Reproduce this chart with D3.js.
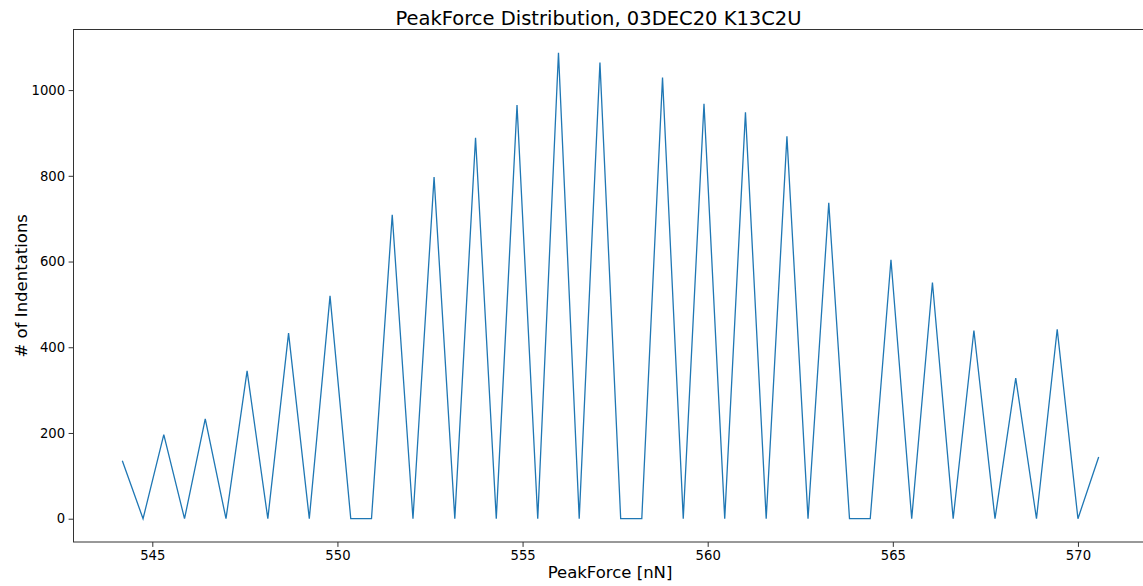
<!DOCTYPE html>
<html>
<head>
<meta charset="utf-8">
<script src="https://cdn.jsdelivr.net/npm/d3@7"></script>
<style>
  html, body { margin: 0; padding: 0; background: #fff; }
  svg { display: block; font-family: "DejaVu Sans", sans-serif; }
</style>
</head>
<body>
<svg id="chart" width="1143" height="586"></svg>
<script>
// Bin centres (PeakForce, nN)
const peakForce = [
  544.19, 544.75, 545.31, 545.87, 546.43, 546.99, 547.56, 548.12, 548.68, 549.24,
  549.80, 550.36, 550.92, 551.48, 552.04, 552.61, 553.17, 553.73, 554.29, 554.85,
  555.41, 555.97, 556.53, 557.09, 557.65, 558.22, 558.78, 559.34, 559.90, 560.46,
  561.02, 561.58, 562.14, 562.71, 563.27, 563.83, 564.39, 564.95, 565.51, 566.07,
  566.63, 567.19, 567.76, 568.32, 568.88, 569.44, 570.00, 570.56
];
// Number of indentations per bin
const counts = [
  135, 0, 196, 0, 233, 0, 345, 0, 433, 0,
  520, 0, 0, 709, 0, 797, 0, 889, 0, 965,
  0, 1087, 0, 1064, 0, 0, 1029, 0, 968, 0,
  948, 0, 892, 0, 737, 0, 0, 604, 0, 551,
  0, 439, 0, 328, 0, 442, 0, 144
];
const xTicks = [545, 550, 555, 560, 565, 570];
const yTicks = [0, 200, 400, 600, 800, 1000];
const titleText = "PeakForce Distribution, 03DEC20 K13C2U";
const xLabelText = "PeakForce [nN]";
const yLabelText = "# of Indentations";

const svg = d3.select("#chart");
const L = 73.5, R = 1147.5, T = 29.5, B = 542;

const xMin = d3.min(peakForce), xMax = d3.max(peakForce);
const xPad = (xMax - xMin) * 0.05;
const yMin = d3.min(counts), yMax = d3.max(counts);
const yPad = (yMax - yMin) * 0.05;

const x = d3.scaleLinear().domain([xMin - xPad, xMax + xPad]).range([L, R]);
const y = d3.scaleLinear().domain([yMin - yPad, yMax + yPad]).range([B, T]);

const data = peakForce.map((v, i) => ({ x: v, y: counts[i] }));

// line
svg.append("path")
  .datum(data)
  .attr("fill", "none")
  .attr("stroke", "#1f77b4")
  .attr("stroke-width", 1.3)
  .attr("stroke-linejoin", "miter")
  .attr("d", d3.line().x(d => x(d.x)).y(d => y(d.y)));

// axes
const xAxis = svg.append("g")
  .attr("transform", `translate(0,${B})`)
  .call(d3.axisBottom(x).tickValues(xTicks).tickSize(4.9).tickPadding(3.5).tickFormat(d3.format("d")));
const yAxis = svg.append("g")
  .attr("transform", `translate(${L},0)`)
  .call(d3.axisLeft(y).tickValues(yTicks).tickSize(4.9).tickPadding(3.5).tickFormat(d3.format("d")));

[xAxis, yAxis].forEach(g => {
  g.select(".domain").remove();
  g.selectAll(".tick line").attr("stroke", "#333").attr("stroke-width", 1);
  g.selectAll(".tick text")
    .attr("fill", "#000")
    .style("font-family", "DejaVu Sans, sans-serif")
    .style("font-size", "13.2px");
});

// frame (right side falls beyond the viewport)
svg.append("rect")
  .attr("x", L).attr("y", T)
  .attr("width", R - L).attr("height", B - T)
  .attr("fill", "none")
  .attr("stroke", "#333")
  .attr("stroke-width", 1);

// title
svg.append("text")
  .attr("x", 598.5)
  .attr("y", 24.5)
  .attr("text-anchor", "middle")
  .style("font-size", "19.5px")
  .attr("fill", "#000")
  .text(titleText);

// x label
svg.append("text")
  .attr("x", 610)
  .attr("y", 577.5)
  .attr("text-anchor", "middle")
  .style("font-size", "16.5px")
  .attr("fill", "#000")
  .text(xLabelText);

// y label
svg.append("text")
  .attr("transform", `translate(26.5,${(T + B) / 2}) rotate(-90)`)
  .attr("text-anchor", "middle")
  .style("font-size", "16.5px")
  .attr("fill", "#000")
  .text(yLabelText);
</script>
</body>
</html>
